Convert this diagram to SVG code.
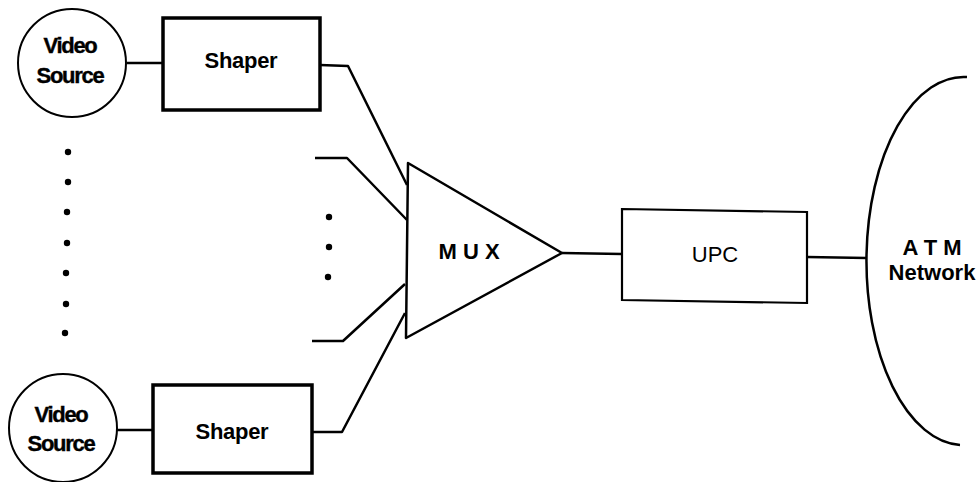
<svg xmlns="http://www.w3.org/2000/svg" width="978" height="482" viewBox="0 0 978 482">
  <style>
    .bg { fill: #ffffff; }
    .src { fill: #ffffff; stroke: #000; stroke-width: 2; }
    .shaper { fill: #ffffff; stroke: #000; stroke-width: 3.5; }
    .thin { fill: #ffffff; stroke: #000; stroke-width: 2.2; }
    .wire { fill: none; stroke: #000; stroke-width: 2.5; stroke-linejoin: round; }
    .dot { fill: #000; }
    .lbl { font-family: "Liberation Sans", Arial, sans-serif; fill: #000; text-anchor: middle; }
    .b { font-weight: bold; }
    .heavy { stroke: #000; stroke-width: 0.4; }
  </style>
  <rect class="bg" x="0" y="0" width="978" height="482"/>

  <!-- connectors -->
  <g id="connectors">
    <line class="wire" x1="127" y1="63" x2="163" y2="63"/>
    <polyline class="wire" points="320,65 348,66 407,185"/>
    <polyline class="wire" points="315,158 347,158 407,220"/>
    <polyline class="wire" points="312,341 343,341 405,284"/>
    <polyline class="wire" points="312,432 342,432 405,313"/>
    <line class="wire" x1="117" y1="430" x2="153" y2="430"/>
    <line class="wire" x1="562" y1="253" x2="622" y2="254"/>
    <line class="wire" x1="807" y1="257" x2="867" y2="258"/>
  </g>

  <!-- continuation dots -->
  <g id="dots-sources">
    <circle class="dot" cx="68" cy="152" r="3.2"/>
    <circle class="dot" cx="68" cy="182" r="3.2"/>
    <circle class="dot" cx="67" cy="212" r="3.2"/>
    <circle class="dot" cx="67" cy="243" r="3.2"/>
    <circle class="dot" cx="66" cy="273" r="3.2"/>
    <circle class="dot" cx="66" cy="304" r="3.2"/>
    <circle class="dot" cx="65" cy="333" r="3.2"/>
  </g>
  <g id="dots-inputs">
    <circle class="dot" cx="329" cy="217" r="3.2"/>
    <circle class="dot" cx="329" cy="247" r="3.2"/>
    <circle class="dot" cx="328" cy="277" r="3.2"/>
  </g>

  <!-- top video source -->
  <g id="source-top">
    <circle class="src" cx="72" cy="63" r="54"/>
    <text class="lbl b heavy" x="70" y="53" font-size="22" letter-spacing="-1.3">Video</text>
    <text class="lbl b heavy" x="70" y="83" font-size="22" letter-spacing="-1.3">Source</text>
  </g>
  <g id="shaper-top">
    <rect class="shaper" x="163" y="18" width="157" height="92"/>
    <text class="lbl b" x="241" y="68" font-size="22" letter-spacing="-0.3">Shaper</text>
  </g>

  <!-- bottom video source -->
  <g id="source-bottom">
    <circle class="src" cx="63" cy="428" r="54"/>
    <text class="lbl b heavy" x="61" y="422" font-size="22" letter-spacing="-1.3">Video</text>
    <text class="lbl b heavy" x="61" y="451" font-size="22" letter-spacing="-1.3">Source</text>
  </g>
  <g id="shaper-bottom">
    <rect class="shaper" x="153" y="385" width="159" height="88"/>
    <text class="lbl b" x="232" y="439" font-size="22" letter-spacing="-0.3">Shaper</text>
  </g>

  <!-- multiplexer -->
  <g id="mux">
    <polygon class="wire" points="408,163 562,253 406,338" style="fill:#fff"/>
    <text class="lbl b" x="469" y="259" font-size="22">M U X</text>
  </g>

  <!-- usage parameter control -->
  <g id="upc">
    <polygon class="thin" points="622,209 807,212 807,303 622,300"/>
    <text class="lbl" x="715" y="262" font-size="22">UPC</text>
  </g>

  <!-- ATM network cloud edge -->
  <g id="atm">
    <path class="wire" d="M 967,77 A 97,184 0 0 0 960,445"/>
    <text class="lbl b" x="932" y="255" font-size="22">A T M</text>
    <text class="lbl b" x="932" y="280" font-size="22">Network</text>
  </g>
</svg>
